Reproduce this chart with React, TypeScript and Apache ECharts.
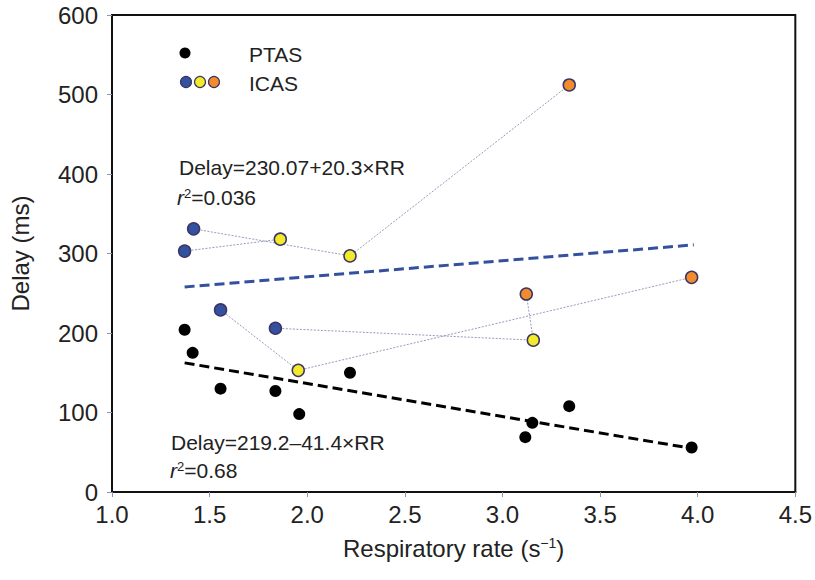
import React, { useEffect, useRef } from "react";
import * as echarts from "echarts";

const xTicks = [1.0, 1.5, 2.0, 2.5, 3.0, 3.5, 4.0, 4.5];
const yTicks = [0, 100, 200, 300, 400, 500, 600];

// PTAS points [RR, delay]
const ptasX = [1.372, 1.413, 1.556, 1.837, 1.959, 2.219, 3.117, 3.153, 3.342, 3.969];
const ptasY = [204, 175, 130, 127, 98, 150, 69, 87, 108, 56];

// ICAS patients: [blue, yellow, orange?]
const icasBlue: number[][] = [
  [1.418, 331],
  [1.372, 303],
  [1.556, 229],
  [1.837, 206],
];
const icasYellow: number[][] = [
  [2.219, 297],
  [1.862, 318],
  [1.954, 153],
  [3.158, 191],
];
const icasOrange: (number[] | null)[] = [
  [3.342, 512],
  null,
  [3.969, 270],
  [3.122, 249],
];

// regression fits
const ptasFit = { a: 219.2, b: -41.4, x0: 1.372, x1: 3.98 };
const icasFit = { a: 230.07, b: 20.3, x0: 1.372, x1: 3.98 };

const FONT = "Liberation Sans, Arial, sans-serif";
const BLUE = "#33519f";
const YELLOW = "#f3ea2a";
const ORANGE = "#f18b2e";
const EDGE = "#3b3566";
const LINK = "#8a90b4";
const TXT = "#222";

export default function App() {
  const ref = useRef<HTMLDivElement>(null);
  useEffect(() => {
    if (!ref.current) return;
    const chart = echarts.init(ref.current, null, { renderer: "svg" });

    const linkSeries = icasBlue.map((b, i) => {
      const pts = [b, icasYellow[i]];
      if (icasOrange[i]) pts.push(icasOrange[i] as number[]);
      return {
        type: "line",
        data: pts,
        symbol: "none",
        lineStyle: { color: LINK, width: 0.9, type: [2, 1.5] },
        z: 2,
        silent: true,
      };
    });

    const fitLine = (f: typeof ptasFit) => [
      [f.x0, f.a + f.b * f.x0],
      [f.x1, f.a + f.b * f.x1],
    ];

    const circleStyle = (color: string) => ({
      color,
      borderColor: EDGE,
      borderWidth: 1.5,
      opacity: 1,
    });

    const rText = (x: number, y: number, val: string) => ({
      type: "text",
      x,
      y,
      style: {
        text: `{i|r}{s|2}{n|=${val}}`,
        fill: TXT,
        textVerticalAlign: "middle",
        rich: {
          i: { fontFamily: FONT, fontSize: 21, fontStyle: "italic", fill: TXT },
          s: { fontFamily: FONT, fontSize: 13, verticalAlign: "top", fill: TXT, padding: [0, 0, 7, 0] },
          n: { fontFamily: FONT, fontSize: 21, fill: TXT },
        },
      },
    });

    const plainText = (x: number, y: number, text: string) => ({
      type: "text",
      x,
      y,
      style: { text, font: `21px ${FONT}`, fill: TXT, textVerticalAlign: "middle" },
    });

    const option: any = {
      animation: false,
      backgroundColor: "#fff",
      grid: {
        left: 110,
        right: 19,
        top: 15,
        bottom: 88,
        show: true,
        borderColor: "#111",
        borderWidth: 2,
        backgroundColor: "transparent",
      },
      xAxis: {
        type: "value",
        min: xTicks[0],
        max: xTicks[xTicks.length - 1],
        interval: 0.5,
        name: "Respiratory rate (s{sup|−1})",
        nameLocation: "middle",
        nameGap: 44,
        nameTextStyle: {
          fontFamily: FONT,
          fontSize: 24,
          color: TXT,
          rich: {
            sup: { fontSize: 14, verticalAlign: "top", fontFamily: FONT, color: TXT, padding: [0, 0, 11, 0] },
          },
        },
        axisLine: { show: true, lineStyle: { color: "#111", width: 2 } },
        axisTick: { show: true, length: 5, lineStyle: { color: "#8a94b8", width: 1 } },
        axisLabel: {
          fontFamily: FONT,
          fontSize: 24,
          color: TXT,
          margin: 10,
          formatter: (v: number) => v.toFixed(1),
        },
        splitLine: { show: false },
      },
      yAxis: {
        type: "value",
        min: yTicks[0],
        max: yTicks[yTicks.length - 1],
        interval: 100,
        name: "Delay (ms)",
        nameLocation: "middle",
        nameGap: 80,
        nameTextStyle: { fontFamily: FONT, fontSize: 24, color: TXT },
        axisLine: { show: true, lineStyle: { color: "#111", width: 2 } },
        axisTick: { show: true, length: 5, lineStyle: { color: "#8a94b8", width: 1 } },
        axisLabel: { fontFamily: FONT, fontSize: 24, color: TXT, margin: 14 },
        splitLine: { show: false },
      },
      series: [
        ...linkSeries,
        {
          type: "line",
          data: fitLine(icasFit),
          symbol: "none",
          lineStyle: { color: BLUE, width: 3, type: [10, 5] },
          z: 3,
          silent: true,
        },
        {
          type: "line",
          data: fitLine(ptasFit),
          symbol: "none",
          lineStyle: { color: "#000", width: 3, type: [10, 5] },
          z: 3,
          silent: true,
        },
        {
          name: "PTAS",
          type: "scatter",
          data: ptasX.map((x, i) => [x, ptasY[i]]),
          symbolSize: 12,
          itemStyle: { color: "#000", opacity: 1 },
          z: 5,
        },
        {
          name: "ICAS blue",
          type: "scatter",
          data: icasBlue,
          symbolSize: 12,
          itemStyle: circleStyle(BLUE),
          z: 5,
        },
        {
          name: "ICAS yellow",
          type: "scatter",
          data: icasYellow,
          symbolSize: 12,
          itemStyle: circleStyle(YELLOW),
          z: 5,
        },
        {
          name: "ICAS orange",
          type: "scatter",
          data: icasOrange.filter((p) => p !== null),
          symbolSize: 12,
          itemStyle: circleStyle(ORANGE),
          z: 5,
        },
      ],
      graphic: [
        { type: "circle", shape: { cx: 185, cy: 53, r: 5.5 }, style: { fill: "#000" } },
        plainText(249, 54, "PTAS"),
        { type: "circle", shape: { cx: 186, cy: 82, r: 5.5 }, style: { fill: BLUE, stroke: EDGE, lineWidth: 1.2 } },
        { type: "circle", shape: { cx: 200, cy: 82, r: 5.5 }, style: { fill: YELLOW, stroke: EDGE, lineWidth: 1.2 } },
        { type: "circle", shape: { cx: 214, cy: 82, r: 5.5 }, style: { fill: ORANGE, stroke: EDGE, lineWidth: 1.2 } },
        plainText(249, 83, "ICAS"),
        plainText(179, 167, "Delay=230.07+20.3×RR"),
        rText(177, 197, "0.036"),
        plainText(171, 442, "Delay=219.2–41.4×RR"),
        rText(170, 470, "0.68"),
      ],
    };
    chart.setOption(option);
    return () => chart.dispose();
  }, []);
  return <div ref={ref} style={{ width: 815, height: 580, position: "absolute", left: 0, top: 0 }} />;
}
